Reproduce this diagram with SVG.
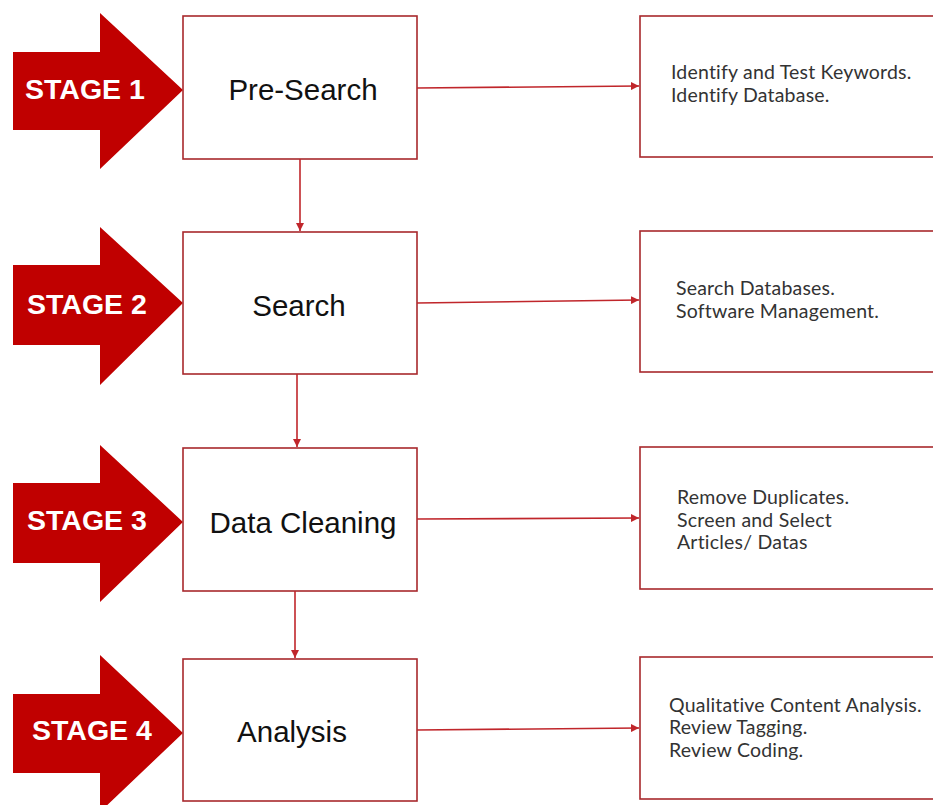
<svg xmlns="http://www.w3.org/2000/svg" width="933" height="805" viewBox="0 0 933 805">
  <style>
    .stage { fill: #c00000; }
    .stage-label { font-family: "Liberation Sans", Arial, sans-serif; font-weight: bold; font-size: 28.5px; fill: #ffffff; }
    .box { fill: #ffffff; stroke: #a8282c; stroke-width: 1.6; }
    .title { font-family: "Liberation Sans", Arial, sans-serif; font-size: 29.5px; fill: #111111; text-anchor: middle; }
    .note { font-family: Lato, "Open Sans", sans-serif; font-size: 19.5px; letter-spacing: 0.2px; fill: #333333; }
    .link { stroke: #c0262b; stroke-width: 1.6; fill: none; marker-end: url(#tip); }
  </style>
  <defs>
    <marker id="tip" viewBox="0 0 10 10" refX="10" refY="5" markerWidth="5" markerHeight="5" orient="auto" markerUnits="strokeWidth">
      <path d="M0,0 L10,5 L0,10 z" fill="#c0262b"/>
    </marker>
  </defs>
  <rect width="933" height="805" fill="#ffffff"/>

  <!-- stage arrows -->
  <g id="stage1">
    <polygon class="stage" points="13,52 100,52 100,13 183,90 100,169 100,130 13,130"/>
    <text class="stage-label" x="25" y="99">STAGE 1</text>
  </g>
  <g id="stage2">
    <polygon class="stage" points="13,265 100,265 100,227 183,303 100,385 100,345 13,345"/>
    <text class="stage-label" x="27" y="314">STAGE 2</text>
  </g>
  <g id="stage3">
    <polygon class="stage" points="13,483 100,483 100,445 183,522 100,602 100,563 13,563"/>
    <text class="stage-label" x="27" y="530">STAGE 3</text>
  </g>
  <g id="stage4">
    <polygon class="stage" points="13,694 100,694 100,655 183,733 100,812 100,773 13,773"/>
    <text class="stage-label" x="32" y="740">STAGE 4</text>
  </g>

  <!-- process steps -->
  <g id="pre-search">
    <rect class="box" x="183" y="16" width="234" height="143"/>
    <text class="title" x="303" y="100">Pre-Search</text>
  </g>
  <g id="search">
    <rect class="box" x="183" y="232" width="234" height="142"/>
    <text class="title" x="299" y="316">Search</text>
  </g>
  <g id="data-cleaning">
    <rect class="box" x="183" y="448" width="234" height="143"/>
    <text class="title" x="303" y="533">Data Cleaning</text>
  </g>
  <g id="analysis">
    <rect class="box" x="183" y="659" width="234" height="142"/>
    <text class="title" x="292" y="742">Analysis</text>
  </g>

  <!-- task descriptions -->
  <g id="tasks1">
    <rect class="box" x="640" y="16" width="310" height="141"/>
    <text class="note" x="671" y="79">Identify and Test Keywords.</text>
    <text class="note" x="671" y="102">Identify Database.</text>
  </g>
  <g id="tasks2">
    <rect class="box" x="640" y="231" width="310" height="141"/>
    <text class="note" x="676" y="295">Search Databases.</text>
    <text class="note" x="676" y="318">Software Management.</text>
  </g>
  <g id="tasks3">
    <rect class="box" x="640" y="447" width="310" height="142"/>
    <text class="note" x="677" y="504">Remove Duplicates.</text>
    <text class="note" x="677" y="527">Screen and Select</text>
    <text class="note" x="677" y="549">Articles/ Datas</text>
  </g>
  <g id="tasks4">
    <rect class="box" x="640" y="657" width="310" height="142"/>
    <text class="note" x="669" y="712">Qualitative Content Analysis.</text>
    <text class="note" x="669" y="734">Review Tagging.</text>
    <text class="note" x="669" y="757">Review Coding.</text>
  </g>

  <!-- connectors -->
  <g id="connectors">
    <line class="link" x1="417" y1="88" x2="639" y2="86"/>
    <line class="link" x1="417" y1="303" x2="639" y2="300"/>
    <line class="link" x1="417" y1="519" x2="639" y2="518"/>
    <line class="link" x1="417" y1="730" x2="639" y2="728"/>
    <line class="link" x1="300" y1="159" x2="300" y2="231"/>
    <line class="link" x1="297" y1="374" x2="297" y2="447"/>
    <line class="link" x1="295" y1="591" x2="295" y2="658"/>
  </g>
</svg>
